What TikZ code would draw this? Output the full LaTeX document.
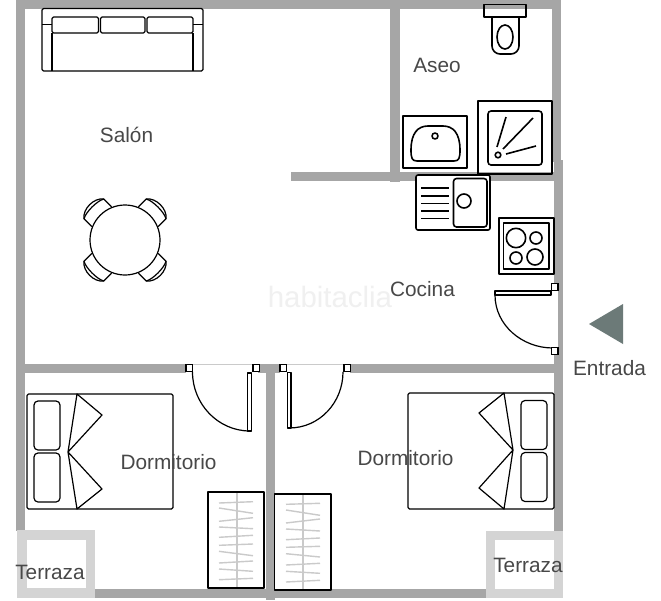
\documentclass[tikz,border=0pt]{standalone}
\usepackage{fontspec}
\setmainfont{Liberation Sans}
\definecolor{wallc}{HTML}{A6A6A6}
\definecolor{terr}{HTML}{D4D4D4}
\definecolor{txt}{HTML}{484848}
\definecolor{hang}{HTML}{CACACA}
\definecolor{arrowc}{HTML}{6C7A78}
\tikzset{
 wall/.style={fill=wallc,draw=none},
 terrace/.style={fill=terr,draw=none},
 ln/.style={draw=black,line width=1.2pt,line join=round},
 thick ln/.style={draw=black,line width=1.6pt,line join=round},
 label/.style={text=txt,font=\fontsize{20.8}{24}\selectfont,inner sep=0pt},
 hinge/.style={draw=black,fill=white,line width=1.1pt},
 hanger/.style={draw=hang,line width=1.4pt},
}
\begin{document}
\begin{tikzpicture}[x=1pt,y=-1pt]
\useasboundingbox (0,0) rectangle (661,600);
\fill[white] (0,0) rectangle (661,600);
% walls
\fill[wall] (16,0) rectangle (561,9);
\fill[wall] (16,0) rectangle (25,531);
\fill[wall] (390,0) rectangle (399.5,182);
\fill[wall] (552,0) rectangle (561,162);
\fill[wall] (291,172) rectangle (554,181);
\fill[wall] (554,160) rectangle (563,285);
\fill[wall] (558,285) rectangle (563,350);
\fill[wall] (554,350) rectangle (563,531);
\fill[wall] (16,364) rectangle (186,373);
\fill[wall] (258,364) rectangle (280,373);
\fill[wall] (350,364) rectangle (558,373);
\fill[wall] (265.5,364) rectangle (274.5,600);
\fill[wall] (95,589) rectangle (487,598);
\fill[hang] (186,364) rectangle (258,365);
\fill[hang] (280,364) rectangle (350,365);
% terraces
\fill[terrace] (17,530) rectangle (95,598);
\fill[white] (27,540) rectangle (86,588);
\fill[terrace] (486,531) rectangle (563,598);
\fill[white] (495,540) rectangle (554,589);
% sofa
\draw[ln,rounded corners=1.5pt] (42,8.5) rectangle (203,71);
\draw[ln] (52,33) -- (52,71) (193,33) -- (193,71) (42,24.5) -- (52,24.5) (193,24.5) -- (203,24.5);
\draw[ln,rounded corners=1.5pt] (52,33) -- (52,17) -- (98.5,17) -- (98.5,33) -- cycle;
\draw[ln,rounded corners=1.5pt] (100.5,33) -- (100.5,17) -- (145,17) -- (145,33) -- cycle;
\draw[ln,rounded corners=1.5pt] (147,33) -- (147,17) -- (193,17) -- (193,33) -- cycle;
% table and chairs
\foreach \a in {45,135,225,315}{
 \begin{scope}[shift={(125,240)},rotate=\a]
  \draw[ln] (33,-14) -- (44,-14) .. controls (52,-8) and (52,8) .. (44,14) -- (33,14);
  \draw[ln] (44,-14) .. controls (47.5,-8) and (47.5,8) .. (44,14);
 \end{scope}}
\draw[ln,fill=white] (125,240) circle (35);
% toilet
\draw[thick ln,rounded corners=8pt] (492,17) -- (492,54) -- (519,54) -- (519,17);
\draw[thick ln] (484,4.5) rectangle (526,17);
\draw[thick ln] (505,37) ellipse (8 and 12);
% shower
\draw[thick ln] (478,100.7) rectangle (552,174);
\draw[thick ln,rounded corners=3pt] (488,111) rectangle (542,165);
\draw[thick ln] (498,155) circle (2.8);
\draw[thick ln] (497,147) -- (506,117) (503,149) -- (533,118) (506,154) -- (536,146);
% basin
\draw[thick ln] (403,116) rectangle (467,168);
\draw[thick ln] (417,161) .. controls (412,161) and (411,158) .. (411,150) .. controls (411,133) and (418,126) .. (428,126) -- (443,126) .. controls (453,126) and (460,133) .. (460,150) .. controls (460,158) and (459,161) .. (454,161) -- cycle;
\draw[thick ln] (435,136) circle (3);
% kitchen sink
\draw[thick ln,fill=white,rounded corners=2pt] (416,175) rectangle (490,230);
\draw[thick ln,rounded corners=3pt] (453.5,178.5) rectangle (487,227);
\draw[thick ln] (464,201) circle (7);
\draw[thick ln] (421,188) -- (449,188) (421,196) -- (449,196) (421,203.5) -- (449,203.5) (421,211) -- (449,211) (421,218.5) -- (449,218.5);
% hob
\draw[thick ln] (499,218) rectangle (554,274);
\draw[thick ln] (503.5,223) rectangle (549,269);
\draw[thick ln] (516,238) circle (9.7);
\draw[thick ln] (536,238) circle (6);
\draw[thick ln] (516,258) circle (6);
\draw[thick ln] (535,257) circle (8);
% kitchen door
\draw[ln,fill=white] (495,291) -- (551,291) -- (551,295) -- (495,295) -- cycle;
\draw[ln] (495,295) .. controls (495,325) and (522,348) .. (553,348);
\draw[hinge] (551.5,283.5) rectangle (558,290.5);
\draw[hinge] (551.5,347.5) rectangle (558,354.5);
% arrow
\fill[arrowc] (589,324) -- (623,304) -- (623,344) -- cycle;
% left door
\draw[ln,fill=white] (247.5,373) rectangle (251.5,431);
\draw[ln] (192.5,372) .. controls (192.5,404) and (218,431) .. (250,431);
\draw[hinge] (186,364.5) rectangle (192.5,371.5);
\draw[hinge] (253,364.5) rectangle (259.5,371.5);
% right door
\draw[ln,fill=white] (287.5,372.5) rectangle (291,428);
\draw[ln] (343,372) .. controls (343,402) and (320,428) .. (289,428);
\draw[hinge] (280,364.5) rectangle (286.5,371.5);
\draw[hinge] (344,364.5) rectangle (350.5,371.5);
% left bed
\draw[ln,rounded corners=1.5pt] (27,394) rectangle (173,509);
\draw[ln,rounded corners=4pt] (34,401) rectangle (60,450);
\draw[ln,rounded corners=4pt] (34,453) rectangle (60,502);
\draw[ln] (77,394) -- (102,415) -- (68,452) -- (102,489) -- (77,509) -- (68,452) -- cycle;
% right bed
\draw[ln,rounded corners=1.5pt] (408,393) rectangle (554,509);
\draw[ln,rounded corners=4pt] (521,400.5) rectangle (547,449.5);
\draw[ln,rounded corners=4pt] (521,452.5) rectangle (547,501.5);
\draw[ln] (504,393) -- (479,413) -- (513,450) -- (479,488) -- (504,509) -- (513,450) -- cycle;
% wardrobes
\draw[hanger] (237,493) -- (237,587);
\foreach \ya/\yb in {503/501.7,508/513.3,521.3/517.7,527/528.7,537.3/535.3,545.3/544,551.3/555.7,563/561,569/571.3,579.7/578.3}
 {\draw[hanger] (219,\ya) -- (253,\yb);}
\draw[thick ln] (208,492) rectangle (264,588);
\draw[hanger] (303,495) -- (303,589);
\foreach \ya/\yb in {504.3/503.3,510/515.3,523/519,529/531,539.7/538,547.3/546.3,553.7/557,565/563.3,571.3/573.3,582/580.3}
 {\draw[hanger] (286,\ya) -- (320,\yb);}
\draw[thick ln] (274.5,494) rectangle (331,590);
% labels
\node[text=black!6,font=\fontsize{29.4}{32}\selectfont,inner sep=0pt] (wm) at (330,297) {habitaclia};
\node[label] (salon) at (126.5,135) {Salón};
\node[label] (aseo) at (437,65) {Aseo};
\node[label] (cocina) at (422.5,289) {Cocina};
\node[label] (entrada) at (609.5,368.5) {Entrada};
\node[label] (dorm1) at (168.5,462) {Dormitorio};
\node[label] (dorm2) at (405.5,458) {Dormitorio};
\node[label] (terr1) at (50,572) {Terraza};
\node[label] (terr2) at (528,565) {Terraza};
\end{tikzpicture}
\end{document}
